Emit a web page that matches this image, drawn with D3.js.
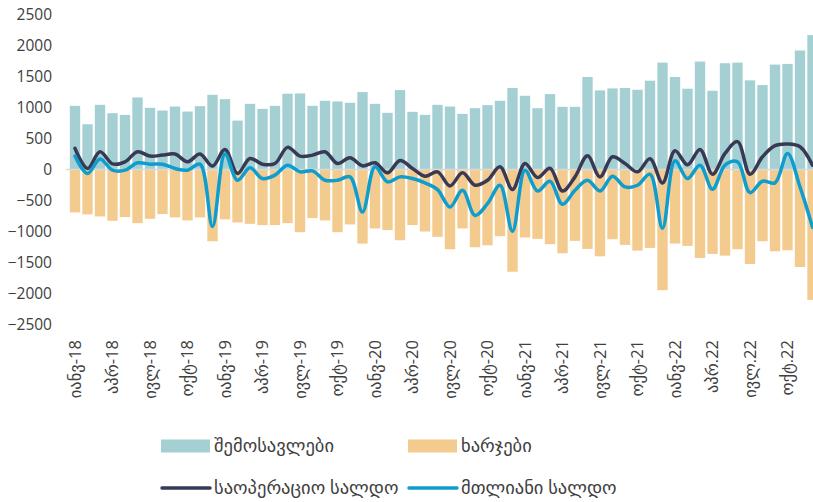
<!DOCTYPE html>
<html lang="ka">
<head>
  <meta charset="UTF-8">
  <title>Budget balance</title>
  <script src="https://d3js.org/d3.v7.min.js"></script>
  <style>
    body { margin: 0; background: white; overflow: hidden; }
    svg { display: block; font-family: "Open Sans", "DejaVu Sans", sans-serif; }
    .tick text { fill: #404040; }
  </style>
</head>
<body>
<svg id="svg"></svg>
<script>
// months Jan 2018 .. Dec 2022
const months = d3.range(60);

const revenue = [1027,730,1043,908,881,1162,995,951,1016,935,1022,1205,1135,789,1059,978,1027,
  1222,1227,1027,1108,1097,1076,1249,1059,914,1281,930,881,1043,1016,897,989,1038,1108,1314,1189,989,1216,
  1011,1011,1492,1276,1308,1314,1286,1432,1724,1492,1303,1741,1270,1714,1724,1438,1362,1692,1703,1919,2168];

const expenses = [-692,-724,-757,-827,-768,-865,-795,-719,-773,-822,-773,-1157,-805,-854,-876,-897,-897,
  -865,-1011,-784,-822,-1011,-886,-1195,-951,-978,-1141,-897,-1000,-1086,-1286,-951,-1254,-1222,-1076,-1649,-1097,-1119,-1205,
  -1351,-1151,-1281,-1400,-1124,-1216,-1308,-1265,-1946,-1195,-1232,-1427,-1362,-1389,-1286,-1524,-1157,-1319,-1303,-1573,-2103];

const operating = [340,15,286,90,124,286,216,232,250,124,249,55,324,-65,178,86,97,
  357,216,232,286,97,189,59,108,-54,146,16,-108,-38,-265,-54,-254,-173,43,-324,97,-130,20,
  -346,-119,222,-119,205,97,-38,173,-216,303,76,324,-76,259,449,-76,205,384,411,368,70];

const total = [216,-65,168,-11,-11,108,86,86,16,-11,86,-919,249,-173,27,-146,-90,
  70,-38,-22,-173,-173,-119,-686,43,-200,-119,-146,-216,-324,-605,-335,-741,-551,-254,-995,-11,-346,-190,
  -562,-335,-173,-346,-108,-281,-254,-76,-946,141,-146,70,-319,70,124,-373,-189,-216,259,-281,-930];

// tick labels every third month
const tickLabels = ["იანვ-18","აპრ-18","ივლ-18","ოქტ-18","იანვ-19","აპრ-19","ივლ-19","ოქტ-19",
  "იანვ-20","აპრ-20","ივლ-20","ოქტ-20","იანვ-21","აპრ-21","ივლ-21","ოქტ-21",
  "იანვ-22","აპრ.22","ივლ.22","ოქტ.22"];
const yTicks = [2500,2000,1500,1000,500,0,-500,-1000,-1500,-2000,-2500];

const seriesNames = ["შემოსავლები","ხარჯები","საოპერაციო სალდო","მთლიანი სალდო"];
const colors = ["#a5d0d3","#f3cb8e","#383a55","#0f9dcd"];

const width = 813, height = 502;
const svg = d3.select("#svg").attr("width", width).attr("height", height);

const x = d3.scaleBand().domain(months).range([68.75, 818.75])
  .paddingInner(0.17).paddingOuter(0.085);
const y = d3.scaleLinear().domain([-2500, 2500]).range([324.5, 14.5]);

// y axis (labels only)
const yAxis = svg.append("g")
  .attr("transform", "translate(52,0)")
  .call(d3.axisLeft(y).tickValues(yTicks).tickSize(0).tickPadding(0).tickFormat(d3.format("d")));
yAxis.select(".domain").remove();
yAxis.selectAll("text").attr("font-size", 15.5).attr("font-family", "Open Sans, sans-serif");

// bars
svg.append("g").selectAll("rect")
  .data(months)
  .join("rect")
  .attr("x", i => x(i))
  .attr("width", x.bandwidth())
  .attr("y", i => y(revenue[i]))
  .attr("height", i => y(0) - y(revenue[i]))
  .attr("fill", colors[0]);

svg.append("g").selectAll("rect")
  .data(months)
  .join("rect")
  .attr("x", i => x(i))
  .attr("width", x.bandwidth())
  .attr("y", y(0))
  .attr("height", i => y(expenses[i]) - y(0))
  .attr("fill", colors[1]);

// zero line
svg.append("line")
  .attr("x1", 66).attr("x2", width)
  .attr("y1", y(0)).attr("y2", y(0))
  .attr("stroke", "#d9d9d9").attr("stroke-width", 1.5);

// balance lines
const cx = i => x(i) + x.bandwidth() / 2;
const line = vals => d3.line()
  .x(i => cx(i))
  .y(i => y(vals[i]))
  .curve(d3.curveCatmullRom.alpha(0.5))(months);

svg.append("path").attr("d", line(operating))
  .attr("fill", "none").attr("stroke", colors[2]).attr("stroke-width", 3.5)
  .attr("stroke-linejoin", "round").attr("stroke-linecap", "round");
svg.append("path").attr("d", line(total))
  .attr("fill", "none").attr("stroke", colors[3]).attr("stroke-width", 3.5)
  .attr("stroke-linejoin", "round").attr("stroke-linecap", "round");

// x labels, rotated
svg.append("g").selectAll("text")
  .data(tickLabels)
  .join("text")
  .attr("transform", (d, k) => `translate(${cx(k * 3) + 5.5},340) rotate(-90)`)
  .attr("text-anchor", "end")
  .attr("font-size", 16.5)
  .attr("fill", "#404040")
  .text(d => d);

// legend
const legend = svg.append("g").attr("font-size", 18.5).attr("fill", "#404040");
const legendItems = [
  {name: seriesNames[0], color: colors[0], type: "box", lx: 161, ly: 446},
  {name: seriesNames[1], color: colors[1], type: "box", lx: 408, ly: 446},
  {name: seriesNames[2], color: colors[2], type: "line", lx: 161, ly: 488},
  {name: seriesNames[3], color: colors[3], type: "line", lx: 408, ly: 488}
];
legendItems.forEach(d => {
  if (d.type === "box") {
    legend.append("rect").attr("x", d.lx).attr("y", d.ly - 6.5)
      .attr("width", 49).attr("height", 13).attr("fill", d.color);
  } else {
    legend.append("line").attr("x1", d.lx + 1).attr("x2", d.lx + 49)
      .attr("y1", d.ly).attr("y2", d.ly)
      .attr("stroke", d.color).attr("stroke-width", 3.5).attr("stroke-linecap", "round");
  }
  legend.append("text").attr("x", d.lx + 53).attr("y", d.ly + 6).text(d.name);
});
</script>
</body>
</html>
